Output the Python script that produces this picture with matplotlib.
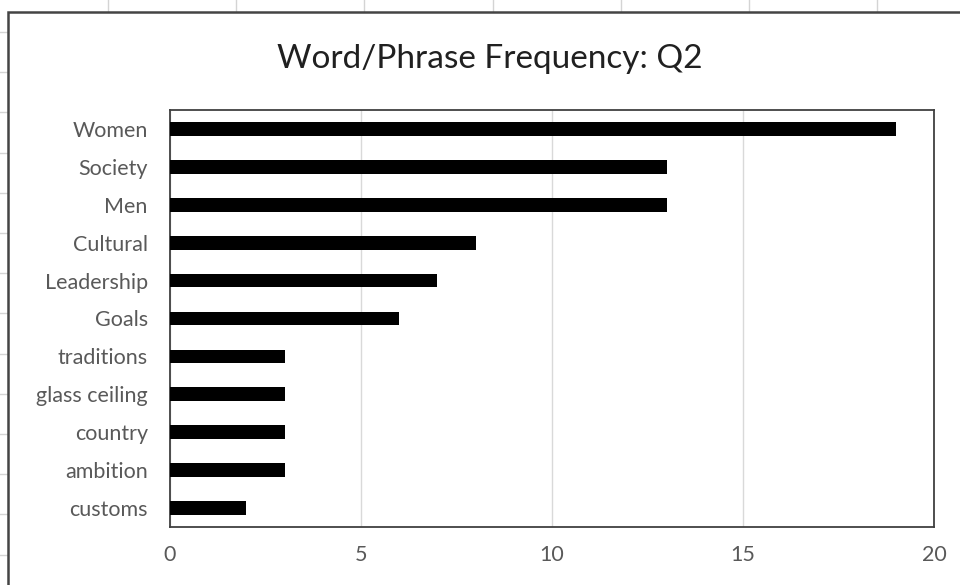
import matplotlib.pyplot as plt
import numpy as np

words = ['Women', 'Society', 'Men', 'Cultural', 'Leadership', 'Goals',
         'traditions', 'glass ceiling', 'country', 'ambition', 'customs']
counts = [19, 13, 13, 8, 7, 6, 3, 3, 3, 3, 2]
x_ticks = [0, 5, 10, 15, 20]

plt.rcParams['font.family'] = ['Lato', 'DejaVu Sans']

fig = plt.figure(figsize=(9.6, 5.85), dpi=100)

# sheet behind the chart: cell grid stubs and the chart frame, in pixels
bg = fig.add_axes([0, 0, 1, 1])
bg.set_xlim(0, 960)
bg.set_ylim(585, 0)
bg.axis('off')
for x in np.arange(108, 960, 128.2):
    bg.plot([x, x], [0, 11], color='#d4d4d4', lw=1)
for y in np.arange(32, 585, 40.2):
    bg.plot([0, 7], [y, y], color='#d4d4d4', lw=1)
bg.plot([8, 8, 962], [590, 12, 12], color='#444444', lw=1.8, solid_joinstyle='miter')

ax = fig.add_axes([170 / 960, 1 - 527 / 585, 764 / 960, 417 / 585])
ypos = np.arange(len(words))
ax.barh(ypos, counts, height=0.36, color='black', zorder=3)
ax.set_ylim(len(words) - 0.5, -0.5)
ax.set_xlim(0, 20)
ax.set_xticks(x_ticks)
ax.set_yticks(ypos)
ax.set_yticklabels(words)
ax.grid(axis='x', color='#d9d9d9', lw=1, zorder=0)
ax.tick_params(length=0, labelsize=15.5, labelcolor='#595959')
ax.tick_params(axis='x', pad=13)
ax.tick_params(axis='y', pad=16)
for s in ax.spines.values():
    s.set_color('#404040')
    s.set_linewidth(1.3)

fig.text(490 / 960, 1 - 59 / 585, 'Word/Phrase Frequency: Q2', ha='center',
         va='center', fontsize=24, color='#202020')

fig.savefig('out.png', dpi=100)
